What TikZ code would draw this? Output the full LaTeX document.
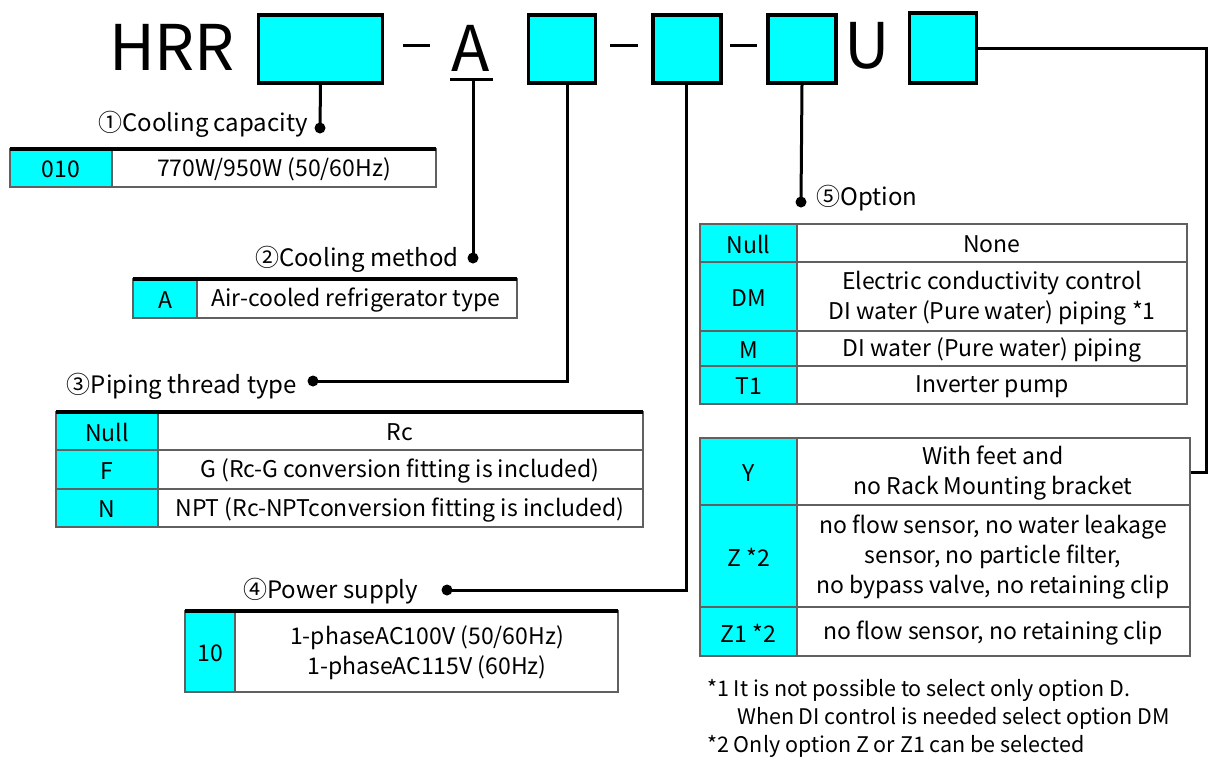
\documentclass[tikz,border=0pt]{standalone}
\usepackage{fontspec}
\setmainfont{Noto Sans CJK JP}
\definecolor{cy}{HTML}{00FFFF}
\definecolor{gl}{HTML}{606060}
\begin{document}
\begin{tikzpicture}[x=1pt,y=-1pt,
  codebox/.style={draw=black,line width=3.5pt,fill=cy,inner sep=0pt},
  big/.style={font=\fontsize{63}{68}\selectfont,inner sep=0pt},
  conn/.style={draw=black,line width=3pt},
  hyph/.style={line width=3pt},
  tline/.style={draw=gl,line width=1.3pt},
  topline/.style={draw=black,line width=3.5pt},
  cell/.style={fill=cy},
  txt/.style={font=\fontsize{23}{27}\selectfont,inner sep=0pt,align=center,yshift=-1.5pt},
  lbl/.style={font=\fontsize{24}{28}\selectfont,inner sep=0pt},
  note/.style={font=\fontsize{21.5}{25}\selectfont,inner sep=0pt,anchor=west},
  dotc/.style={fill=black}
]
\useasboundingbox (0,0) rectangle (1210,758);
% ---------- header ----------
\node[big] (hrr) at (172,47) {HRR};
\node[codebox,minimum width=124pt,minimum height=68pt] (b1) at (320.5,49) {};
\draw[hyph] (403,45) -- (430,45);
\node[big] (a) at (471,48) {A};
\coordinate (aul) at (473,79);
\draw[line width=3pt] (450,79) -- (493,79);
\node[codebox,minimum width=67pt,minimum height=68pt] (b2) at (562,49) {};
\draw[hyph] (610,45) -- (638,45);
\node[codebox,minimum width=68pt,minimum height=68pt] (b3) at (687,49) {};
\draw[hyph] (730,45) -- (757,45);
\node[codebox,minimum width=68pt,minimum height=68pt] (b4) at (802,49) {};
\node[big] (u) at (867,46) {U};
\node[codebox,minimum width=67pt,minimum height=70pt] (b5) at (943,48) {};
% ---------- connectors ----------
\coordinate (d1) at (320,128);
\coordinate (d2) at (473,258);
\coordinate (d3) at (313,381);
\coordinate (d4) at (447,590);
\coordinate (d5) at (801,202);
\coordinate (c6) at (1206,472);
\coordinate (e6) at (1190,472);
\draw[conn] (b1.south) -- (d1);
\draw[conn] (aul) -- (d2);
\draw[conn] (b2.south -| 567,0) |- (d3);
\draw[conn] (b3.south -| 686,0) |- (d4);
\draw[conn] (b4.south) -- (d5);
\draw[conn] (b5.east) -| (c6) -- (e6);
\foreach \d in {d1,d2,d3,d4,d5} \fill[dotc] (\d) circle (5.5pt);
% ---------- labels ----------
\node[lbl,anchor=east] (l1) at (308,124) {①Cooling capacity};
\node[lbl,anchor=east] (l2) at (459,259) {②Cooling method};
\node[lbl,anchor=east] (l3) at (297,386) {③Piping thread type};
\node[lbl,anchor=west] (l4) at (243,591) {④Power supply};
\node[lbl,anchor=west] (l5) at (816,198) {⑤Option};
% ---------- table 1 ----------
\fill[cell] (10,149) rectangle (112,187);
\draw[tline] (10,149) rectangle (436,187) (112,149) -- (112,187);
\draw[topline] (10,149) -- (436,149);
\node[txt] (t1k) at (61,168) {010};
\node[txt] (t1v) at (274,168) {770W/950W (50/60Hz)};
% ---------- table 2 ----------
\fill[cell] (133,279) rectangle (197,318);
\draw[tline] (133,279) rectangle (517,318) (197,279) -- (197,318);
\draw[topline] (133,279) -- (517,279);
\node[txt] (t2k) at (165,298.5) {A};
\node[txt] (t2v) at (356,298.5) {Air-cooled refrigerator type};
% ---------- table 3 ----------
\fill[cell] (56,412) rectangle (158,527);
\draw[tline] (56,412) rectangle (643,527) (158,412) -- (158,527)
  (56,450) -- (643,450) (56,489) -- (643,489);
\draw[topline] (56,412) -- (643,412);
\node[txt] (t3k1) at (107,431) {Null};
\node[txt] (t3v1) at (400,431) {Rc};
\node[txt] (t3k2) at (107,469.5) {F};
\node[txt] (t3v2) at (400,469.5) {G (Rc-G conversion fitting is included)};
\node[txt] (t3k3) at (107,508) {N};
\node[txt] (t3v3) at (400,508) {NPT (Rc-NPTconversion fitting is included)};
% ---------- table 4 ----------
\fill[cell] (185,611) rectangle (235,692);
\draw[tline] (185,611) rectangle (618,692) (235,611) -- (235,692);
\draw[topline] (185,611) -- (618,611);
\node[txt] (t4k) at (210,651.5) {10};
\node[txt] (t4v) at (427,651.5) {1-phaseAC100V (50/60Hz)\\[3pt]1-phaseAC115V (60Hz)};
% ---------- table 5a ----------
\fill[cell] (700,224) rectangle (797,404);
\draw[tline] (700,224) rectangle (1187,404) (797,224) -- (797,404)
  (700,262) -- (1187,262) (700,331) -- (1187,331) (700,366) -- (1187,366);
\node[txt] (t5k1) at (748.5,243) {Null};
\node[txt] (t5v1) at (992,243) {None};
\node[txt] (t5k2) at (748.5,296.5) {DM};
\node[txt] (t5v2) at (992,296.5) {Electric conductivity control\\[3pt]DI water (Pure water) piping *1};
\node[txt] (t5k3) at (748.5,348.5) {M};
\node[txt] (t5v3) at (992,348.5) {DI water (Pure water) piping};
\node[txt] (t5k4) at (748.5,385) {T1};
\node[txt] (t5v4) at (992,385) {Inverter pump};
% ---------- table 5b ----------
\fill[cell] (700,438) rectangle (797,656);
\draw[tline] (700,438) rectangle (1190,656) (797,438) -- (797,656)
  (700,505) -- (1190,505) (700,607) -- (1190,607);
\node[txt] (t6k1) at (748.5,471.5) {Y};
\node[txt] (t6v1) at (993,471.5) {With feet and\\[3pt]no Rack Mounting bracket};
\node[txt] (t6k2) at (748.5,556) {Z *2};
\node[txt] (t6v2) at (993,556) {no flow sensor, no water leakage\\[3pt]sensor, no particle filter,\\[3pt]no bypass valve, no retaining clip};
\node[txt] (t6k3) at (748.5,631.5) {Z1 *2};
\node[txt] (t6v3) at (993,631.5) {no flow sensor, no retaining clip};
% ---------- notes ----------
\node[note] (n1) at (707,690) {*1 It is not possible to select only option D.};
\node[note] (n2) at (737,718) {When DI control is needed select option DM};
\node[note] (n3) at (707,746) {*2 Only option Z or Z1 can be selected};
\end{tikzpicture}
\end{document}
